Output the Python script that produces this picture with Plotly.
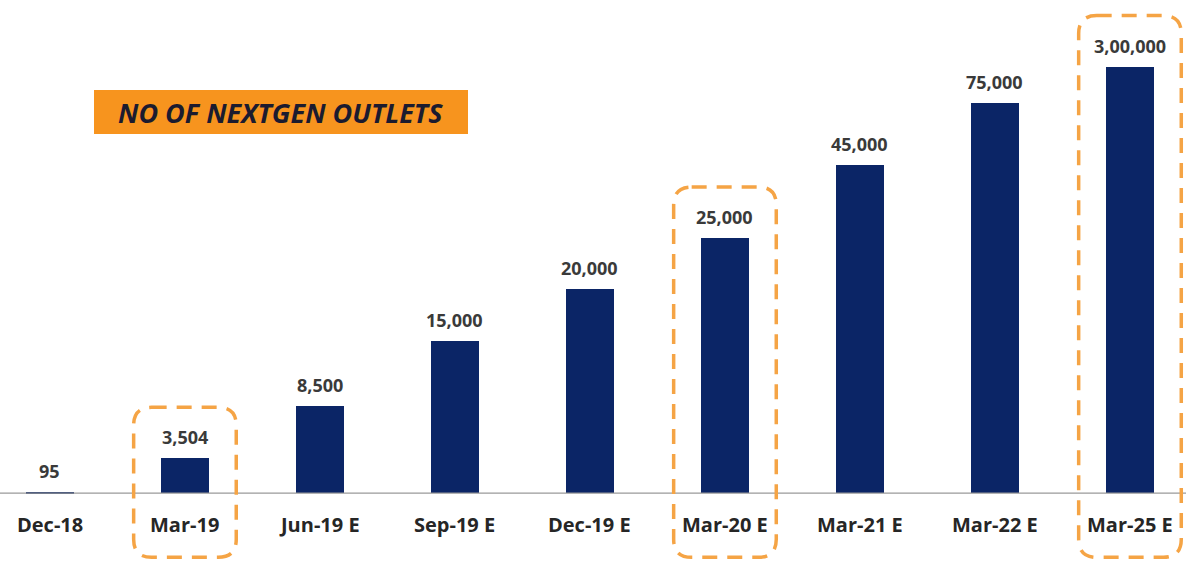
import plotly.graph_objects as go

# ---- data ----
categories = ["Dec-18", "Mar-19", "Jun-19 E", "Sep-19 E", "Dec-19 E",
              "Mar-20 E", "Mar-21 E", "Mar-22 E", "Mar-25 E"]
outlets = [95, 3504, 8500, 15000, 20000, 25000, 45000, 75000, 300000]
# heights as drawn in the source graphic (its scale is compressed after Mar-20)
drawn_heights = [95, 3400, 8500, 14900, 20000, 25000, 32200, 38200, 41800]
highlighted = ["Mar-19", "Mar-20 E", "Mar-25 E"]
title_text = "NO OF NEXTGEN OUTLETS"


def indian_format(n):
    s = str(int(n))
    if len(s) <= 3:
        return s
    last3 = s[-3:]
    rest = s[:-3]
    groups = []
    while len(rest) > 2:
        groups.insert(0, rest[-2:])
        rest = rest[:-2]
    if rest:
        groups.insert(0, rest)
    return ",".join(groups) + "," + last3


NAVY = "#0B2566"
ORANGE = "#F7941E"
DASH_ORANGE = "#F5A445"

W, H = 1186, 562
X_RANGE = [-0.370, 8.415]
Y_RANGE = [-6760, 48330]

xs = list(range(len(categories)))

fig = go.Figure()
fig.add_trace(go.Bar(
    x=xs, y=drawn_heights, width=0.35,
    marker=dict(color=NAVY, line=dict(width=0)),
    hoverinfo="skip", showlegend=False,
))

annotations = []
for i, (v, h) in enumerate(zip(outlets, drawn_heights)):
    annotations.append(dict(
        x=i, y=h, xref="x", yref="y", text=indian_format(v),
        showarrow=False, yanchor="bottom", yshift=7,
        font=dict(family="Open Sans", size=18, color="#3A3A3A", weight="bold"),
    ))
    annotations.append(dict(
        x=i, y=0, xref="x", yref="y", text=categories[i],
        showarrow=False, yanchor="middle", yshift=-31,
        font=dict(family="Open Sans", size=20, color="#262626", weight="bold"),
    ))

px_per_y = H / (Y_RANGE[1] - Y_RANGE[0])
px_per_x = W / (X_RANGE[1] - X_RANGE[0])

shapes = []
# baseline
shapes.append(dict(type="line", xref="paper", yref="y", x0=0, x1=1, y0=0, y1=0,
                   line=dict(color="#9A9A9A", width=1.2), layer="above"))

# orange title box
shapes.append(dict(type="rect", xref="paper", yref="paper",
                   x0=94 / W, x1=468 / W, y0=1 - 134 / H, y1=1 - 90 / H,
                   fillcolor=ORANGE, line=dict(width=0), layer="below"))
annotations.append(dict(
    x=280 / W, y=1 - 113 / H, xref="paper", yref="paper", text=title_text,
    showarrow=False, xanchor="center", yanchor="middle",
    font=dict(family="Open Sans", size=27, color="#1B1B2F", weight="bold",
              style="italic"),
))

# dashed rounded highlight boxes
half_w = 0.38
top_pad = 5000
bottom = -6300
rx = 18 / px_per_x
ry = 18 / px_per_y
for cat in highlighted:
    i = categories.index(cat)
    x0, x1 = i - half_w, i + half_w
    y1 = drawn_heights[i] + top_pad
    y0 = bottom
    path = (f"M {x0+rx},{y1} L {x1-rx},{y1} Q {x1},{y1} {x1},{y1-ry} "
            f"L {x1},{y0+ry} Q {x1},{y0} {x1-rx},{y0} "
            f"L {x0+rx},{y0} Q {x0},{y0} {x0},{y0+ry} "
            f"L {x0},{y1-ry} Q {x0},{y1} {x0+rx},{y1} Z")
    shapes.append(dict(type="path", xref="x", yref="y", path=path,
                       line=dict(color=DASH_ORANGE, width=3.5, dash="15px,10px"),
                       fillcolor="rgba(0,0,0,0)", layer="above"))

fig.update_layout(
    width=W, height=H,
    margin=dict(l=0, r=0, t=0, b=0),
    paper_bgcolor="white", plot_bgcolor="white",
    xaxis=dict(range=X_RANGE, visible=False, fixedrange=True),
    yaxis=dict(range=Y_RANGE, visible=False, fixedrange=True),
    shapes=shapes, annotations=annotations,
    bargap=0,
)

fig.write_html("out.html", config={"displayModeBar": False},
               post_script="document.body.style.margin='0px';")
